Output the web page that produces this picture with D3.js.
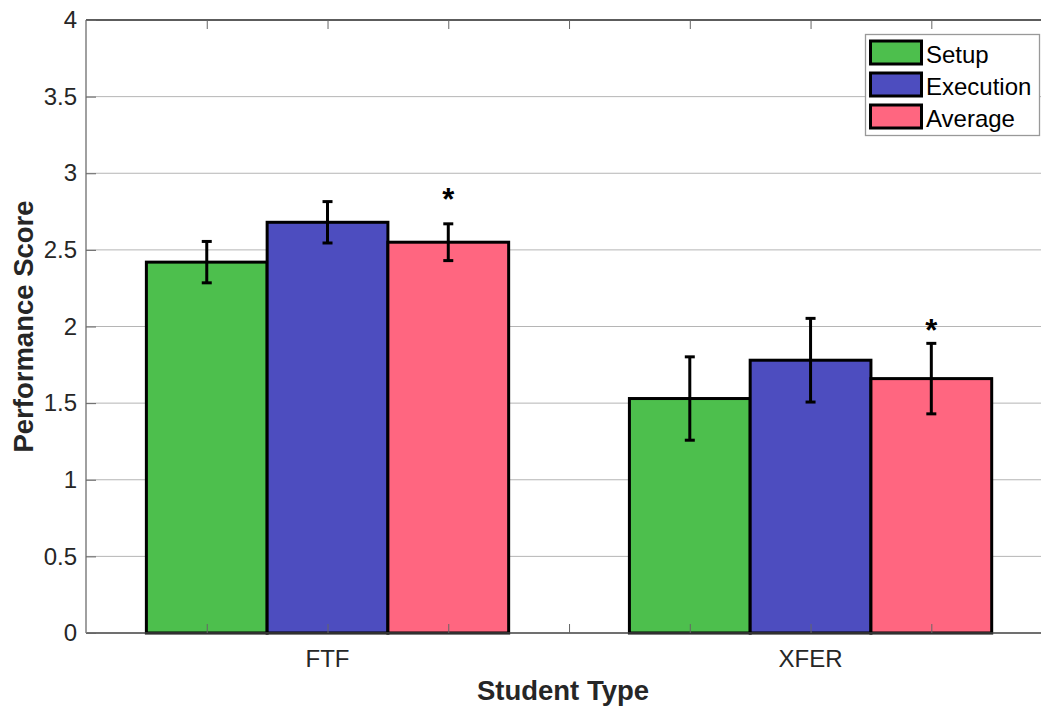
<!DOCTYPE html>
<html><head><meta charset="utf-8">
<script src="https://cdn.jsdelivr.net/npm/d3@7"></script>
<style>body{margin:0;background:#fff}svg{display:block;font-family:"Liberation Sans",Arial,Helvetica,sans-serif}</style>
</head><body><svg id="c" width="1041" height="707"></svg>
<script>
const categories = ["FTF", "XFER"];
const seriesNames = ["Setup", "Execution", "Average"];
const setupValues = [2.42, 1.53];
const executionValues = [2.68, 1.78];
const averageValues = [2.55, 1.66];
const setupErrors = [0.135, 0.272];
const executionErrors = [0.135, 0.273];
const averageErrors = [0.12, 0.23];
const starLevels = [2.88, 2.02];   // asterisk positions above "Average" bars
const yTicks = [0, 0.5, 1, 1.5, 2, 2.5, 3, 3.5, 4];
const xTickPositions = [1, 2, 3, 4, 5, 6, 7];
const colors = ["#4dbf4d", "#4d4dbf", "#ff6680"];

const series = [setupValues, executionValues, averageValues];
const errors = [setupErrors, executionErrors, averageErrors];
const groupCenters = [2, 6];

const svg = d3.select("#c");
const L = 86, R = 1040, T = 20, B = 633;
const x = d3.scaleLinear().domain([0, 7.9]).range([L, R]);
const y = d3.scaleLinear().domain([0, 4]).range([B, T]);
const FONT = "Liberation Sans, Arial, sans-serif";

// gridlines
svg.append("g").selectAll("line").data(yTicks.filter(d => d > 0 && d < 4)).join("line")
  .attr("x1", L).attr("x2", 1041).attr("y1", d => y(d)).attr("y2", d => y(d))
  .attr("stroke", "#b5b5b5").attr("stroke-width", 1);

// bars
const bars = [];
categories.forEach((c, ci) => {
  series.forEach((s, si) => {
    const xc = groupCenters[ci] + (si - 1);
    bars.push({xc, v: s[ci], e: errors[si][ci], si});
  });
});
svg.append("g").selectAll("rect").data(bars).join("rect")
  .attr("x", d => x(d.xc - 0.5)).attr("width", d => x(d.xc + 0.5) - x(d.xc - 0.5))
  .attr("y", d => y(d.v)).attr("height", d => y(0) - y(d.v))
  .attr("fill", d => colors[d.si]).attr("stroke", "#000").attr("stroke-width", 3);

// axes (box)
const ax = svg.append("g");
ax.append("line").attr("x1", L).attr("x2", 1041).attr("y1", T).attr("y2", T).attr("stroke", "#262626").attr("stroke-width", 1.3);
ax.append("line").attr("x1", L).attr("x2", 1041).attr("y1", B).attr("y2", B).attr("stroke", "#404040").attr("stroke-width", 1.3);
ax.append("line").attr("x1", L).attr("x2", L).attr("y1", T).attr("y2", B).attr("stroke", "#808080").attr("stroke-width", 1.5);

// y ticks + labels
const yAxis = d3.axisLeft(y).tickValues(yTicks).tickSize(-10).tickPadding(9).tickFormat(d3.format("~g"));
const gy = svg.append("g").attr("transform", `translate(${L},0)`).call(yAxis);
gy.select(".domain").remove();
gy.selectAll(".tick line").attr("stroke", "#666");
gy.selectAll(".tick text").attr("font-size", 24).attr("fill", "#262626").attr("font-family", FONT);

// x ticks bottom and top
const xAxisB = d3.axisBottom(x).tickValues(xTickPositions).tickSize(-9).tickFormat("");
const gxb = svg.append("g").attr("transform", `translate(0,${B})`).call(xAxisB);
gxb.select(".domain").remove();
gxb.selectAll(".tick line").attr("stroke", "#666");
const xAxisT = d3.axisTop(x).tickValues(xTickPositions).tickSize(-9).tickFormat("");
const gxt = svg.append("g").attr("transform", `translate(0,${T})`).call(xAxisT);
gxt.select(".domain").remove();
gxt.selectAll(".tick line").attr("stroke", "#666");

// category labels
svg.append("g").selectAll("text").data(categories).join("text")
  .attr("x", (d, i) => x(groupCenters[i])).attr("y", 667)
  .attr("text-anchor", "middle").attr("font-size", 24).attr("fill", "#262626").text(d => d);

// error bars
const eb = svg.append("g").attr("stroke", "#000").attr("stroke-width", 3);
bars.forEach(d => {
  const cx = x(d.xc);
  eb.append("line").attr("x1", cx).attr("x2", cx).attr("y1", y(d.v + d.e)).attr("y2", y(d.v - d.e));
  eb.append("line").attr("x1", cx - 5).attr("x2", cx + 5).attr("y1", y(d.v + d.e)).attr("y2", y(d.v + d.e));
  eb.append("line").attr("x1", cx - 5).attr("x2", cx + 5).attr("y1", y(d.v - d.e)).attr("y2", y(d.v - d.e));
});

// asterisks
svg.append("g").selectAll("text").data(starLevels).join("text")
  .attr("x", (d, i) => x(groupCenters[i] + 1)).attr("y", d => y(d) + 18)
  .attr("text-anchor", "middle").attr("font-size", 31).attr("font-weight", "bold").attr("fill", "#000").text("*");

// axis titles
svg.append("text").attr("x", 563).attr("y", 700).attr("text-anchor", "middle")
  .attr("font-size", 27.5).attr("font-weight", "bold").attr("fill", "#262626").text("Student Type");
svg.append("text").attr("transform", `translate(33,${(T + B) / 2}) rotate(-90)`).attr("text-anchor", "middle")
  .attr("font-size", 27.5).attr("font-weight", "bold").attr("fill", "#262626").text("Performance Score");

// legend
const lg = svg.append("g");
lg.append("rect").attr("x", 865.5).attr("y", 34.5).attr("width", 174).attr("height", 101)
  .attr("fill", "#fff").attr("stroke", "#999").attr("stroke-width", 1.3);
seriesNames.forEach((n, i) => {
  const yy = 41 + i * 32;
  lg.append("rect").attr("x", 870.5).attr("y", yy).attr("width", 51).attr("height", 23)
    .attr("fill", colors[i]).attr("stroke", "#000").attr("stroke-width", 3);
  lg.append("text").attr("x", 926).attr("y", yy + 21.5).attr("font-size", 24).attr("fill", "#000").text(n);
});
</script></body></html>
